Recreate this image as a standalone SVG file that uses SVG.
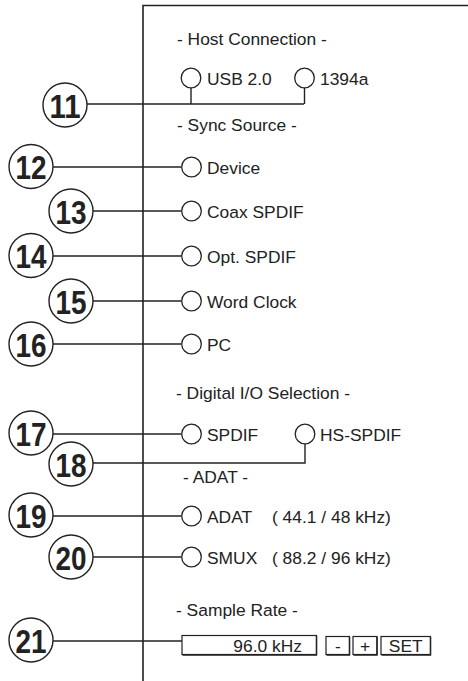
<svg xmlns="http://www.w3.org/2000/svg" width="468" height="681" viewBox="0 0 468 681">
<style>
.t{font-family:"Liberation Sans",Arial,sans-serif;font-size:17.4px;fill:#222}
.n{font-family:"Liberation Sans",Arial,sans-serif;font-size:33px;font-weight:bold;fill:#222;text-anchor:middle}
.c{fill:#fff;stroke:#222;stroke-width:1.4}
.r{fill:#fff;stroke:#222;stroke-width:1.3}
.l{fill:none;stroke:#222;stroke-width:1.4}
.b{fill:#fff;stroke:#222;stroke-width:1.2}
</style>
<rect width="468" height="681" fill="#fff"/>
<g id="panel">
<path d="M143,681 V5.5 H468" fill="none" stroke="#222" stroke-width="1.6"/>
<text class="t" x="177" y="45">- Host Connection -</text>
<text class="t" x="177" y="131">- Sync Source -</text>
<text class="t" x="176" y="399">- Digital I/O Selection -</text>
<text class="t" x="183" y="483">- ADAT -</text>
<text class="t" x="176" y="616">- Sample Rate -</text>
</g>
<g id="connectors">
<path class="l" d="M87,104 H304 M191,88 V104 M304.5,88 V104"/>
<path class="l" d="M53,167 H181"/>
<path class="l" d="M93,211 H181"/>
<path class="l" d="M53,256 H181"/>
<path class="l" d="M93,301 H181"/>
<path class="l" d="M53,344 H181"/>
<path class="l" d="M53,434 H181"/>
<path class="l" d="M93,463 H305 V444"/>
<path class="l" d="M53,516 H181"/>
<path class="l" d="M93,557 H181"/>
<path class="l" d="M53,641 H182"/>
</g>
<g id="opt-usb"><circle class="r" cx="191" cy="78" r="9.8"/><text class="t" x="207" y="85">USB 2.0</text></g>
<g id="opt-1394"><circle class="r" cx="304.5" cy="78" r="9.8"/><text class="t" x="320" y="85">1394a</text></g>
<g id="opt-device"><circle class="r" cx="191.5" cy="167" r="9.8"/><text class="t" x="207" y="174">Device</text></g>
<g id="opt-coax"><circle class="r" cx="191.5" cy="211" r="9.8"/><text class="t" x="207" y="218">Coax SPDIF</text></g>
<g id="opt-opt"><circle class="r" cx="191.5" cy="256" r="9.8"/><text class="t" x="207" y="263">Opt. SPDIF</text></g>
<g id="opt-wc"><circle class="r" cx="191.5" cy="301" r="9.8"/><text class="t" x="207" y="308">Word Clock</text></g>
<g id="opt-pc"><circle class="r" cx="191.5" cy="344" r="9.8"/><text class="t" x="207" y="351">PC</text></g>
<g id="opt-spdif"><circle class="r" cx="191.5" cy="434" r="9.8"/><text class="t" x="207" y="441">SPDIF</text></g>
<g id="opt-hsspdif"><circle class="r" cx="305" cy="434" r="9.8"/><text class="t" x="320" y="441">HS-SPDIF</text></g>
<g id="opt-adat"><circle class="r" cx="191.5" cy="516" r="9.8"/><text class="t" x="207" y="523">ADAT</text><text class="t" x="272" y="523">( 44.1 / 48 kHz)</text></g>
<g id="opt-smux"><circle class="r" cx="191.5" cy="557" r="9.8"/><text class="t" x="207" y="564">SMUX</text><text class="t" x="272" y="564">( 88.2 / 96 kHz)</text></g>
<g id="rate">
<rect class="b" x="182" y="635.5" width="134.5" height="19"/>
<path class="l" d="M316.5,636 V655 H182.5" stroke-width="1.8"/>
<text class="t" x="302" y="652" text-anchor="end">96.0 kHz</text>
</g>
<g id="btn-minus"><rect class="b" x="326" y="636.5" width="23.5" height="18"/><path class="l" d="M349.5,637 V655 H326.5" stroke-width="1.8"/><text class="t" x="337.8" y="652" text-anchor="middle">-</text></g>
<g id="btn-plus"><rect class="b" x="353" y="636.5" width="24" height="18"/><path class="l" d="M377,637 V655 H353.5" stroke-width="1.8"/><text class="t" x="365" y="652" text-anchor="middle">+</text></g>
<g id="btn-set"><rect class="b" x="381" y="636.5" width="49.5" height="18"/><path class="l" d="M430.5,637 V655 H381.5" stroke-width="1.8"/><text class="t" x="405.7" y="652" text-anchor="middle">SET</text></g>
<g id="n11"><circle class="c" cx="65" cy="105" r="22"/><text class="n" x="65" y="117.5" textLength="31" lengthAdjust="spacingAndGlyphs">11</text></g>
<g id="n12"><circle class="c" cx="31" cy="166.5" r="22"/><text class="n" x="31" y="179" textLength="31" lengthAdjust="spacingAndGlyphs">12</text></g>
<g id="n13"><circle class="c" cx="71" cy="211" r="22"/><text class="n" x="71" y="223.5" textLength="31" lengthAdjust="spacingAndGlyphs">13</text></g>
<g id="n14"><circle class="c" cx="31" cy="255.5" r="22"/><text class="n" x="31" y="268" textLength="31" lengthAdjust="spacingAndGlyphs">14</text></g>
<g id="n15"><circle class="c" cx="71" cy="301" r="22"/><text class="n" x="71" y="313.5" textLength="31" lengthAdjust="spacingAndGlyphs">15</text></g>
<g id="n16"><circle class="c" cx="31" cy="344" r="22"/><text class="n" x="31" y="356.5" textLength="31" lengthAdjust="spacingAndGlyphs">16</text></g>
<g id="n17"><circle class="c" cx="31" cy="433" r="22"/><text class="n" x="31" y="445.5" textLength="31" lengthAdjust="spacingAndGlyphs">17</text></g>
<g id="n18"><circle class="c" cx="71" cy="464" r="22"/><text class="n" x="71" y="476.5" textLength="31" lengthAdjust="spacingAndGlyphs">18</text></g>
<g id="n19"><circle class="c" cx="31" cy="515" r="22"/><text class="n" x="31" y="527.5" textLength="31" lengthAdjust="spacingAndGlyphs">19</text></g>
<g id="n20"><circle class="c" cx="71" cy="557" r="22"/><text class="n" x="71" y="569.5" textLength="31" lengthAdjust="spacingAndGlyphs">20</text></g>
<g id="n21"><circle class="c" cx="31" cy="640" r="22"/><text class="n" x="31" y="652.5" textLength="31" lengthAdjust="spacingAndGlyphs">21</text></g>
</svg>
